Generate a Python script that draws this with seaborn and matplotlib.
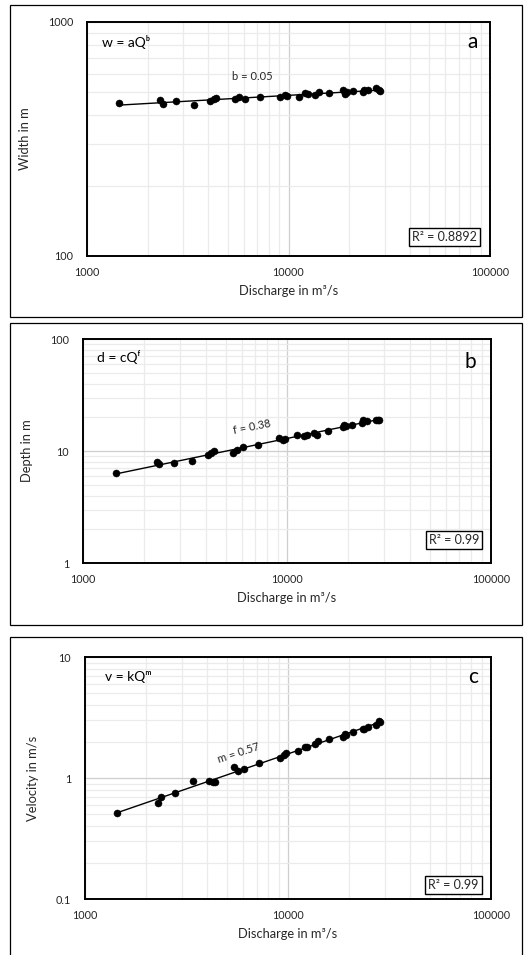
import numpy as np
import pandas as pd
import matplotlib
matplotlib.use("Agg")
import matplotlib.pyplot as plt
import matplotlib.patches as mpatches
from matplotlib.ticker import LogLocator, FixedLocator, NullFormatter, FixedFormatter
import seaborn as sns

# ---------------- data ----------------
discharge = [1445, 2300, 2370, 2780, 3410, 4090, 4250, 4375, 5420, 5700, 6080,
             7190, 9120, 9600, 9820, 11220, 12080, 12470, 13550, 14090, 15920,
             18710, 19050, 19410, 20800, 23390, 23660, 24720, 27160, 27990, 28310]
width = [451, 464, 446, 460, 440, 461, 467, 472, 467, 480, 467,
         477, 478, 489, 481, 478, 496, 492, 489, 501, 497,
         512, 492, 503, 506, 504, 510, 512, 521, 512, 505]
depth = [6.3, 7.9, 7.7, 7.8, 8.1, 9.2, 9.6, 9.9, 9.5, 10.2, 10.8,
         11.4, 13.0, 12.6, 12.7, 13.9, 13.5, 13.9, 14.4, 13.9, 15.2,
         16.5, 16.9, 16.6, 17.1, 17.7, 19.0, 18.5, 19.0, 19.1, 19.0]
velocity = [0.51, 0.625, 0.69, 0.757, 0.944, 0.953, 0.93, 0.92, 1.225, 1.135, 1.18,
            1.33, 1.46, 1.56, 1.60, 1.66, 1.79, 1.80, 1.92, 2.01, 2.10,
            2.20, 2.33, 2.28, 2.42, 2.52, 2.55, 2.64, 2.76, 2.94, 2.88]

panel_letters = ["a", "b", "c"]
equations = ["w = aQᵇ", "d = cQᶠ", "v = kQᵐ"]
exponent_labels = ["b = 0.05", "f = 0.38", "m = 0.57"]
r2_labels = ["R² = 0.8892", "R² = 0.99", "R² = 0.99"]
ylabels = ["Width in m", "Depth in m", "Velocity in m/s"]
xlabel = "Discharge in m³/s"
x_ticks = [1000, 10000, 100000]
x_ticklabels = ["1000", "10000", "100000"]
y_ticks = [[100, 1000], [1, 10, 100], [0.1, 1, 10]]
y_ticklabels = [["100", "1000"], ["1", "10", "100"], ["0.1", "1", "10"]]

# ---------------- style ----------------
sns.set_style("white")
plt.rcParams["font.family"] = ["Lato", "DejaVu Sans"]
FAM = ["Lato", "DejaVu Sans"]
TXT = "#262626"

W, H = 524, 955
fig = plt.figure(figsize=(W / 100, H / 100), dpi=100)


def fx(px):
    return px / W


def fy(py):
    return 1 - py / H


# panel frames (pixel coordinates: left, top, right, bottom)
frames = [(10, 5, 522, 317), (10, 323, 522, 625), (10, 637, 522, 962)]
for (l, t, r, b) in frames:
    fig.add_artist(mpatches.Rectangle((fx(l), fy(b)), fx(r) - fx(l), fy(t) - fy(b),
                                      transform=fig.transFigure, fill=False,
                                      edgecolor="black", linewidth=0.9, clip_on=False))

axes_px = [(87, 22, 490, 256), (83, 339, 491, 563), (85, 657, 491, 899)]
ylims = [(100, 1000), (1, 100), (0.1, 10)]
series = [width, depth, velocity]

# annotation positions (pixels)
eq_pos = [(102, 42), (97, 357), (105, 677)]
letter_pos = [(473, 42), (470, 362), (473, 677)]
exp_pos = [(252, 77), (252, 427), (239, 753)]
exp_rot = [0, 11, 18]
r2_pos = [(444.5, 237), (454, 540), (453.5, 885)]

for i in range(3):
    l, t, r, b = axes_px[i]
    ax = fig.add_axes([fx(l), fy(b), fx(r) - fx(l), fy(t) - fy(b)])
    df = pd.DataFrame({"Q": discharge, "Y": series[i]})

    # power-law fit in log space
    slope, icpt = np.polyfit(np.log10(df["Q"]), np.log10(df["Y"]), 1)
    qfit = np.array([min(discharge), max(discharge)])
    fit = pd.DataFrame({"Q": qfit, "Y": 10 ** (icpt + slope * np.log10(qfit))})

    ax.set_xscale("log")
    ax.set_yscale("log")
    sns.lineplot(data=fit, x="Q", y="Y", ax=ax, color="black", linewidth=1.0, zorder=3)
    sns.scatterplot(data=df, x="Q", y="Y", ax=ax, color="black", s=26,
                    edgecolor="black", linewidth=0.3, zorder=4)

    ax.set_xlim(1000, 100000)
    ax.set_ylim(*ylims[i])

    ax.xaxis.set_major_locator(FixedLocator(x_ticks))
    ax.xaxis.set_major_formatter(FixedFormatter(x_ticklabels))
    ax.yaxis.set_major_locator(FixedLocator(y_ticks[i]))
    ax.yaxis.set_major_formatter(FixedFormatter(y_ticklabels[i]))
    ax.xaxis.set_minor_locator(LogLocator(base=10, subs=np.arange(2, 10), numticks=20))
    ax.yaxis.set_minor_locator(LogLocator(base=10, subs=np.arange(2, 10), numticks=20))
    ax.xaxis.set_minor_formatter(NullFormatter())
    ax.yaxis.set_minor_formatter(NullFormatter())

    ax.grid(True, which="major", color="#cfcfcf", linewidth=0.9, zorder=0)
    ax.grid(True, which="minor", color="#ebebeb", linewidth=0.9, zorder=0)
    ax.set_axisbelow(True)

    ax.tick_params(which="both", length=0, labelsize=7.8, colors=TXT)
    ax.tick_params(axis="x", pad=8)
    ax.tick_params(axis="y", pad=10)
    for lab in ax.get_xticklabels() + ax.get_yticklabels():
        lab.set_family(FAM)

    for sp in ax.spines.values():
        sp.set_visible(True)
        sp.set_color("black")
        sp.set_linewidth(1.4)

    ax.set_xlabel(xlabel, fontsize=9.3, color=TXT, labelpad=5, family=FAM)
    ax.set_ylabel(ylabels[i], fontsize=9.3, color=TXT, labelpad=12, family=FAM)

    fig.text(fx(eq_pos[i][0]), fy(eq_pos[i][1]), equations[i], fontsize=10,
             color="black", ha="left", va="center", family=FAM)
    fig.text(fx(letter_pos[i][0]), fy(letter_pos[i][1]), panel_letters[i], fontsize=15,
             color="black", ha="center", va="center", family=FAM)
    fig.text(fx(exp_pos[i][0]), fy(exp_pos[i][1]), exponent_labels[i], fontsize=8,
             color=TXT, ha="center", va="center", rotation=exp_rot[i],
             rotation_mode="anchor", family=FAM)
    fig.text(fx(r2_pos[i][0]), fy(r2_pos[i][1]), r2_labels[i], fontsize=9,
             color=TXT, ha="center", va="center", family=FAM,
             bbox=dict(boxstyle="square,pad=0.25", facecolor="white",
                       edgecolor="black", linewidth=1.0))

fig.savefig("out.png", dpi=100)
